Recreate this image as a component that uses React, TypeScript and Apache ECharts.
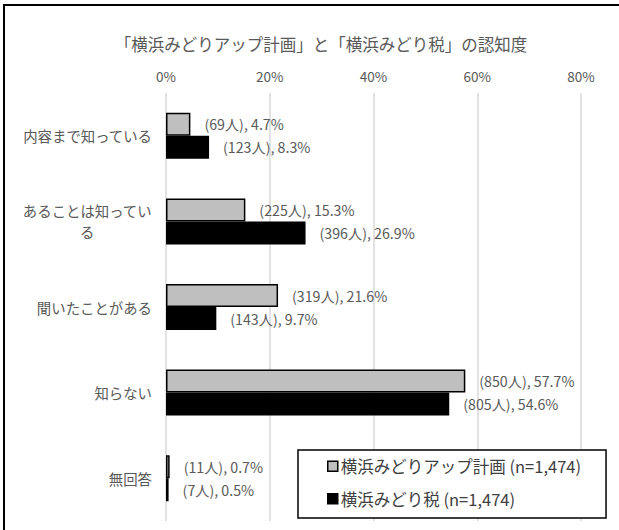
import React, { useEffect, useRef } from "react";
import * as echarts from "echarts";

const categories = ["内容まで知っている", "あることは知っている", "聞いたことがある", "知らない", "無回答"];
const planName = "横浜みどりアップ計画 (n=1,474)";
const taxName = "横浜みどり税 (n=1,474)";
const planCounts = [69, 225, 319, 850, 11];
const planPct = [4.7, 15.3, 21.6, 57.7, 0.7];
const taxCounts = [123, 396, 143, 805, 7];
const taxPct = [8.3, 26.9, 9.7, 54.6, 0.5];
const xTicks = [0, 20, 40, 60, 80];
const titleText = "「横浜みどりアップ計画」と「横浜みどり税」の認知度";

const FONT = "'Noto Sans CJK JP', 'Noto Sans', sans-serif";
const TXT = "#595959";

export default function App() {
  const ref = useRef<HTMLDivElement>(null);
  useEffect(() => {
    if (!ref.current) return;
    const chart = echarts.init(ref.current, null, { renderer: "svg" });
    const mkLabel = (counts: number[]) => ({
      show: true,
      position: "right",
      distance: 14,
      color: TXT,
      fontSize: 14.2,
      fontFamily: FONT,
      formatter: (p: any) => `(${counts[p.dataIndex]}人), ${p.value.toFixed(1)}%`,
    });
    chart.setOption({
      animation: false,
      backgroundColor: "#ffffff",
      textStyle: { fontFamily: FONT },
      title: {
        text: titleText,
        left: 316,
        textAlign: "center",
        top: 31,
        textStyle: { color: TXT, fontSize: 16.5, fontWeight: "normal", fontFamily: FONT },
      },
      grid: { left: 166, right: 38, top: 93, bottom: 9, containLabel: false },
      xAxis: {
        type: "value",
        position: "top",
        min: xTicks[0],
        max: xTicks[xTicks.length - 1],
        interval: xTicks[1] - xTicks[0],
        axisLine: { show: false },
        axisTick: { show: false },
        axisLabel: { color: TXT, fontSize: 13.5, margin: 10, formatter: "{value}%", fontFamily: FONT },
        splitLine: { lineStyle: { color: "#d9d9d9", width: 1.5 } },
      },
      yAxis: {
        type: "category",
        inverse: true,
        data: categories,
        axisLine: { show: false },
        axisTick: { show: false },
        axisLabel: {
          color: TXT,
          fontSize: 14.4,
          margin: 14,
          fontFamily: FONT,
          formatter: (v: string) =>
            v.length > 9 ? `{c|${v.slice(0, 9)}}\n{c|${v.slice(9)}}` : v,
          rich: {
            c: { align: "center", color: TXT, fontSize: 14.4, lineHeight: 21, fontFamily: FONT },
          },
        },
      },
      legend: {
        orient: "vertical",
        left: 298,
        top: 450,
        padding: [8, 25, 11, 29],
        itemGap: 16,
        itemWidth: 10,
        itemHeight: 10,
        icon: "rect",
        backgroundColor: "#ffffff",
        borderColor: "#000000",
        borderWidth: 1.5,
        textStyle: { color: "#404040", fontSize: 16.5, fontFamily: FONT, padding: [0, 0, 0, -2] },
        data: [
          { name: planName, itemStyle: { color: "#bfbfbf", borderColor: "#000000", borderWidth: 1.5 } },
          { name: taxName, itemStyle: { color: "#000000", borderColor: "#000000", borderWidth: 1.5 } },
        ],
      },
      graphic: [
        {
          type: "rect",
          shape: { x: 4, y: 5, width: 700, height: 600 },
          style: { fill: "none", stroke: "#000000", lineWidth: 2 },
          silent: true,
        },
      ],
      series: [
        {
          name: planName,
          type: "bar",
          data: planPct,
          barWidth: 23,
          barGap: "0%",
          itemStyle: { color: "#bfbfbf", borderColor: "#000000", borderWidth: 1.5 },
          label: mkLabel(planCounts),
        },
        {
          name: taxName,
          type: "bar",
          data: taxPct,
          barWidth: 23,
          barGap: "0%",
          itemStyle: { color: "#000000", borderColor: "#000000", borderWidth: 1.5 },
          label: mkLabel(taxCounts),
        },
      ],
    });
    return () => chart.dispose();
  }, []);
  return (
    <div
      ref={ref}
      style={{ position: "fixed", left: 0, top: 0, width: 619, height: 530, background: "#fff" }}
    />
  );
}
